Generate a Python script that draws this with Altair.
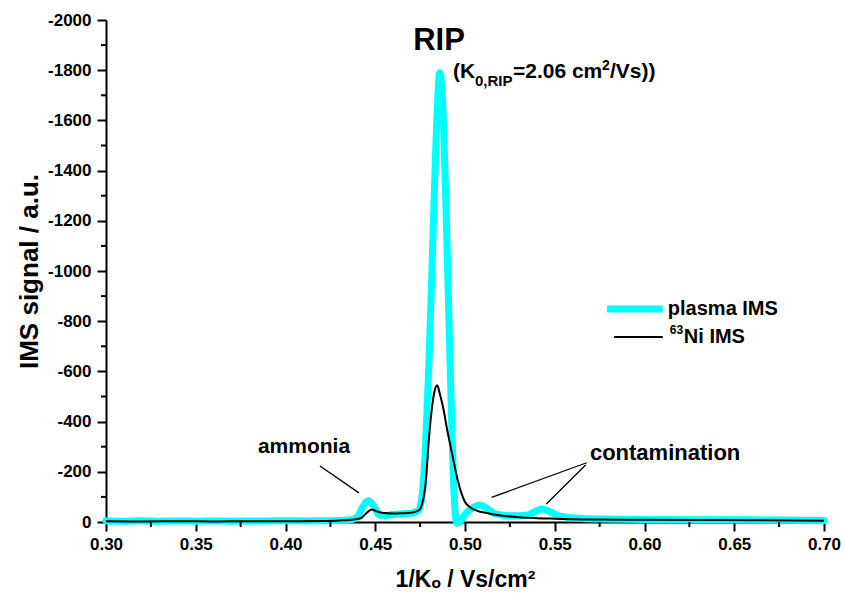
import altair as alt
import pandas as pd

# ---------------- data ----------------
plasma_x = [0.300, 0.310, 0.320, 0.330, 0.340, 0.350, 0.360, 0.370, 0.380, 0.390,
            0.400, 0.410, 0.420, 0.430, 0.436, 0.440, 0.443, 0.446, 0.449, 0.452,
            0.455, 0.460, 0.465, 0.470, 0.474, 0.476, 0.478, 0.480, 0.482, 0.484,
            0.486, 0.488, 0.490, 0.492, 0.494, 0.4955, 0.497, 0.500, 0.504, 0.508,
            0.512, 0.516, 0.520, 0.525, 0.530, 0.535, 0.540, 0.543, 0.547, 0.552,
            0.558, 0.565, 0.575, 0.590, 0.610, 0.630, 0.650, 0.670, 0.690, 0.700]
plasma_y = [-5, -3, -5, -3, -4, -3, -4, -3, -4, -4,
            -5, -4, -5, -6, -8, -20, -60, -85, -65, -30,
            -25, -30, -33, -35, -45, -100, -300, -650, -1100, -1550,
            -1790, -1600, -1100, -550, -100, 5, 0, -30, -55, -68,
            -55, -35, -28, -25, -25, -28, -45, -52, -42, -25,
            -18, -14, -12, -11, -10, -9, -9, -8, -7, -6]

ni_x = [0.300, 0.320, 0.340, 0.360, 0.380, 0.400, 0.420, 0.430, 0.438, 0.442,
        0.445, 0.448, 0.451, 0.455, 0.460, 0.465, 0.470, 0.474, 0.476, 0.478,
        0.480, 0.4815, 0.483, 0.4845, 0.486, 0.488, 0.490, 0.492, 0.494, 0.496,
        0.498, 0.500, 0.503, 0.507, 0.512, 0.518, 0.525, 0.535, 0.550, 0.570,
        0.600, 0.630, 0.660, 0.700]
ni_y = [-3, -2, -3, -2, -3, -3, -4, -6, -10, -15,
        -35, -50, -42, -36, -34, -35, -37, -45, -70, -150,
        -340, -450, -520, -545, -510, -450, -370, -300, -230, -165,
        -115, -80, -58, -44, -36, -28, -22, -17, -13, -10,
        -9, -8, -7, -5]

x_major_ticks = [0.30, 0.35, 0.40, 0.45, 0.50, 0.55, 0.60, 0.65, 0.70]
x_minor_ticks = [0.325, 0.375, 0.425, 0.475, 0.525, 0.575, 0.625, 0.675]
y_major_ticks = [-2000, -1800, -1600, -1400, -1200, -1000, -800, -600, -400, -200, 0]
y_minor_ticks = [-1900, -1700, -1500, -1300, -1100, -900, -700, -500, -300, -100]

# annotation pointer lines
ptr_x1 = [0.4192, 0.5678, 0.5672]
ptr_y1 = [-223, -236, -227]
ptr_x2 = [0.4409, 0.5148, 0.5453]
ptr_y2 = [-116, -98, -72]

# legend
leg_labels = ["plasma IMS", "Ni IMS"]
leg_x1 = [0.5791, 0.5830]
leg_x2 = [0.6102, 0.6102]
leg_y = [-849, -737]
leg_text_x = 0.6130

FONT = "Liberation Sans"
W, H = 718, 502

xs = alt.Scale(domain=[0.30, 0.70], nice=False, zero=False)
ys = alt.Scale(domain=[-2000, 0], reverse=True, nice=False, zero=False)

x_axis = alt.Axis(
    values=x_major_ticks,
    labelExpr="format(datum.value, '.2f')",
    tickSize=9,
    title="1/Kₒ / Vs/cm²",
    titleFont=FONT, titleFontSize=23, titleFontWeight="bold", titleColor="black",
    titlePadding=16,
    labelFont=FONT, labelFontSize=17, labelFontWeight="bold", labelColor="black",
    labelPadding=5, labelFlush=False, labelOverlap=False,
    domainColor="black", domainWidth=2, tickColor="black", tickWidth=2, grid=False,
)
y_axis = alt.Axis(
    values=y_major_ticks,
    labelExpr="'' + datum.value",
    tickSize=9,
    title="IMS signal / a.u.",
    titleFont=FONT, titleFontSize=26, titleFontWeight="bold", titleColor="black",
    titlePadding=5,
    labelFont=FONT, labelFontSize=17, labelFontWeight="bold", labelColor="black",
    labelPadding=6, labelFlush=False, labelOverlap=False,
    domainColor="black", domainWidth=2, tickColor="black", tickWidth=2, grid=False,
)

plasma_df = pd.DataFrame({"x": plasma_x, "y": plasma_y})
ni_df = pd.DataFrame({"x": ni_x, "y": ni_y})

X = lambda f="x:Q": alt.X(f, scale=xs)
Y = lambda f="y:Q": alt.Y(f, scale=ys)

plasma = alt.Chart(plasma_df).mark_line(
    color="#00FFFF", strokeWidth=7, interpolate="monotone", strokeCap="round", strokeJoin="round"
).encode(
    x=alt.X("x:Q", scale=xs, axis=x_axis),
    y=alt.Y("y:Q", scale=ys, axis=y_axis),
)

ni = alt.Chart(ni_df).mark_line(
    color="black", strokeWidth=2, interpolate="monotone"
).encode(x=X(), y=Y())

# minor ticks
xminor = alt.Chart(pd.DataFrame({"x": x_minor_ticks})).mark_rule(
    color="black", strokeWidth=2
).encode(x=X(), y=alt.value(H), y2=alt.value(H + 5))
yminor = alt.Chart(pd.DataFrame({"y": y_minor_ticks})).mark_rule(
    color="black", strokeWidth=2
).encode(y=Y(), x=alt.value(0), x2=alt.value(-5))

ptr_df = pd.DataFrame({"x": ptr_x1, "y": ptr_y1, "x2": ptr_x2, "y2": ptr_y2})
pointers = alt.Chart(ptr_df).mark_rule(color="black", strokeWidth=1.3).encode(
    x=X(), y=Y(), x2="x2:Q", y2="y2:Q",
)


def label(text, x, y, size, align="left", baseline="middle", dx=0, dy=0):
    df = pd.DataFrame({"x": [x], "y": [y], "t": [text]})
    return alt.Chart(df).mark_text(
        font=FONT, fontSize=size, fontWeight="bold", color="black",
        align=align, baseline=baseline, dx=dx, dy=dy,
    ).encode(x=X(), y=Y(), text="t:N")


ammonia = label("ammonia", 0.4103, -299, 21, align="center")
contam = label("contamination", 0.5696, -275, 22)
rip = label("RIP", 0.4855, -1880, 31, align="center", baseline="alphabetic")

sub_x, sub_y = 0.4933, -1769
sub = [
    label("(K", sub_x, sub_y, 21, baseline="alphabetic"),
    label("0,RIP", sub_x, sub_y, 15, baseline="alphabetic", dx=22, dy=8),
    label("=2.06 cm", sub_x, sub_y, 21, baseline="alphabetic", dx=60),
    label("2", sub_x, sub_y, 14, baseline="alphabetic", dx=149, dy=-8),
    label("/Vs))", sub_x, sub_y, 21, baseline="alphabetic", dx=157),
]

leg_cyan = alt.Chart(pd.DataFrame({"x": [leg_x1[0]], "x2": [leg_x2[0]], "y": [leg_y[0]]})).mark_rule(
    color="#00FFFF", strokeWidth=7
).encode(x=X(), x2="x2:Q", y=Y())
leg_black = alt.Chart(pd.DataFrame({"x": [leg_x1[1]], "x2": [leg_x2[1]], "y": [leg_y[1]]})).mark_rule(
    color="black", strokeWidth=2
).encode(x=X(), x2="x2:Q", y=Y())

leg_t1 = label(leg_labels[0], leg_text_x, leg_y[0], 20)
leg_sup = label("63", leg_text_x, leg_y[1], 12, dx=2, dy=-7)
leg_t2 = label(leg_labels[1], leg_text_x, leg_y[1], 20, dx=16)

chart = alt.layer(
    plasma, ni, xminor, yminor, pointers, ammonia, contam, rip, *sub,
    leg_cyan, leg_black, leg_t1, leg_sup, leg_t2
).properties(
    width=W, height=H,
    padding={"left": 106, "top": 20, "right": 21, "bottom": 78},
    autosize=alt.AutoSizeParams(type="none"),
    background="white",
).configure_view(stroke=None)

chart.save("out.html", embed_options={"renderer": "svg", "actions": False})
